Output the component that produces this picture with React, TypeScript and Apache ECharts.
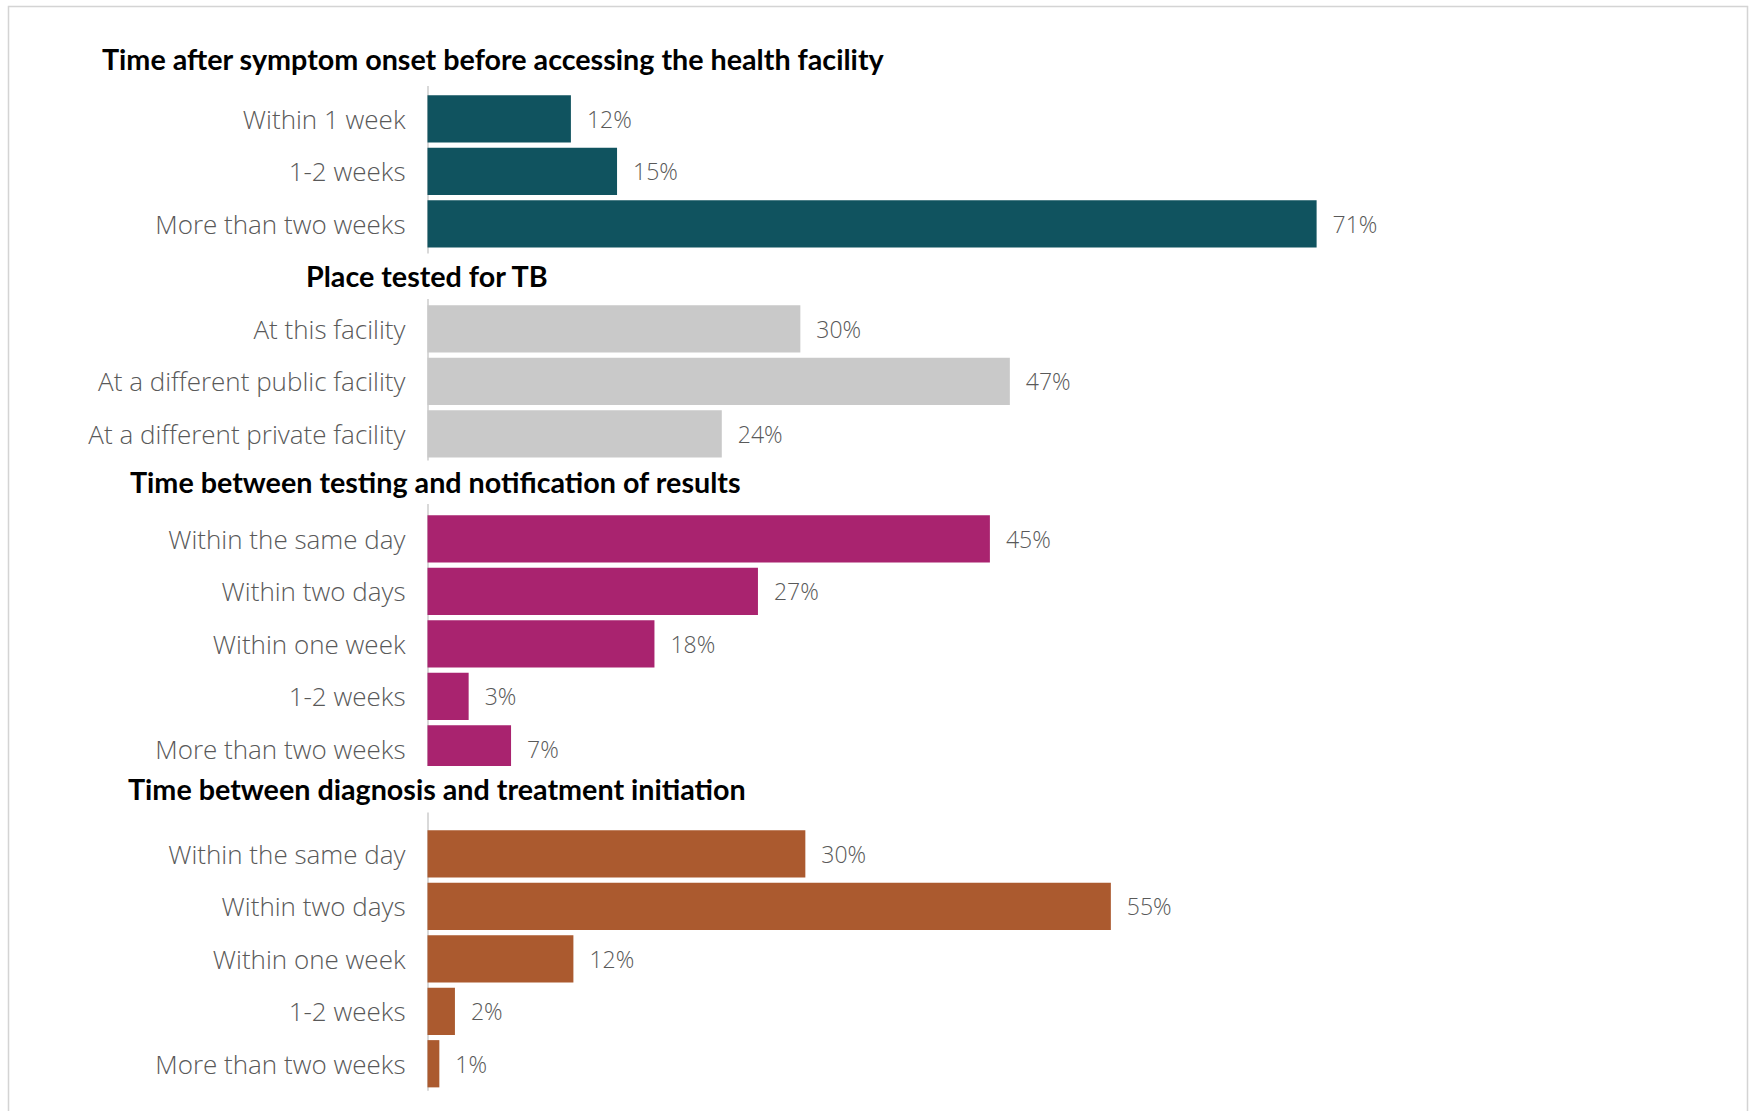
import React, { useEffect, useRef } from 'react';
import * as echarts from 'echarts';

const sectionTitles = [
  'Time after symptom onset before accessing the health facility',
  'Place tested for TB',
  'Time between testing and notification of results',
  'Time between diagnosis and treatment initiation',
];

const sec1Categories = ['Within 1 week', '1-2 weeks', 'More than two weeks'];
const sec1Values = [11.5, 15.2, 71.3];

const sec2Categories = ['At this facility', 'At a different public facility', 'At a different private facility'];
const sec2Values = [29.9, 46.7, 23.6];

const sec3Categories = ['Within the same day', 'Within two days', 'Within one week', '1-2 weeks', 'More than two weeks'];
const sec3Values = [45.1, 26.5, 18.2, 3.3, 6.7];

const sec4Categories = ['Within the same day', 'Within two days', 'Within one week', '1-2 weeks', 'More than two weeks'];
const sec4Values = [30.3, 54.8, 11.7, 2.2, 0.95];

const sectionColors = ['#10535F', '#C9C9C9', '#A9236F', '#AB5A2F'];

// layout of title boxes (pixels relative to the title slot centre)
const titleLayout = [
  { x: 96, dy: -7, padTop: 5, padBottom: 20 },
  { x: 300, dy: 0, padTop: 12, padBottom: 5 },
  { x: 124, dy: -4, padTop: 13, padBottom: 2 },
  { x: 122, dy: -12, padTop: 16, padBottom: 2 },
];

const LABEL_FONT = 'Open Sans';
const TITLE_FONT = 'Lato';
const TITLE_SIZE = 28.7;

export default function App() {
  const ref = useRef<HTMLDivElement>(null);

  useEffect(() => {
    if (!ref.current) return;
    const chart = echarts.init(ref.current, null, { renderer: 'svg' });

    const sections = [
      { cats: sec1Categories, vals: sec1Values },
      { cats: sec2Categories, vals: sec2Values },
      { cats: sec3Categories, vals: sec3Values },
      { cats: sec4Categories, vals: sec4Values },
    ];
    const slotKeys: string[] = [];
    const titleSlots: number[] = [];
    const seriesData: (number | string)[][] = sections.map(() => []);
    sections.forEach((sec, si) => {
      titleSlots.push(slotKeys.length);
      slotKeys.push(`t${si}|`);
      seriesData.forEach((d) => d.push('-'));
      sec.cats.forEach((c, ci) => {
        slotKeys.push(`s${si}c${ci}|${c}`);
        seriesData.forEach((d, di) => d.push(di === si ? sec.vals[ci] : '-'));
      });
    });

    const option: any = {
      animation: false,
      backgroundColor: '#ffffff',
      grid: {
        left: 427.5,
        top: 40,
        width: 1247,
        height: 1050,
        containLabel: false,
        outerBoundsMode: 'none',
      },
      xAxis: {
        type: 'value',
        min: 0,
        max: 100,
        show: false,
      },
      yAxis: {
        type: 'category',
        inverse: true,
        data: slotKeys,
        axisTick: { show: false },
        axisLine: { show: true, lineStyle: { color: '#d9d9d9', width: 2 } },
        axisLabel: {
          margin: 22,
          color: '#595959',
          fontSize: 26,
          fontWeight: 300,
          fontFamily: LABEL_FONT,
          formatter: (v: string) => v.split('|')[1],
        },
      },
      series: sections.map((sec, si) => ({
        type: 'bar',
        stack: 'all',
        barCategoryGap: '10%',
        data: seriesData[si],
        itemStyle: { color: sectionColors[si] },
        label: {
          show: true,
          position: 'right',
          distance: 16,
          color: '#595959',
          fontSize: 23,
          fontWeight: 300,
          fontFamily: LABEL_FONT,
          formatter: (p: any) => `${Math.round(p.value)}%`,
        },
      })),
    };
    chart.setOption(option);

    const elements: any[] = [
      {
        type: 'rect',
        z: 0,
        shape: { x: 8.5, y: 6.5, width: 1739, height: 1130 },
        style: { fill: 'none', stroke: '#d4d4d4', lineWidth: 1.5 },
        silent: true,
      },
    ];
    titleSlots.forEach((slot, ti) => {
      const yc = chart.convertToPixel({ yAxisIndex: 0 }, slot) as number;
      const lay = titleLayout[ti];
      elements.push({
        type: 'text',
        z: 100,
        x: lay.x,
        y: yc + lay.dy,
        style: {
          text: sectionTitles[ti],
          fill: '#000000',
          fontSize: TITLE_SIZE,
          fontWeight: 'bold',
          fontFamily: TITLE_FONT,
          align: 'left',
          verticalAlign: 'middle',
          lineHeight: TITLE_SIZE,
          backgroundColor: '#ffffff',
          padding: [lay.padTop, 6, lay.padBottom, 6],
        },
      });
    });
    chart.setOption({ graphic: elements });

    return () => chart.dispose();
  }, []);

  return (
    <div
      ref={ref}
      style={{ position: 'absolute', left: 0, top: 0, width: 1749, height: 1111 }}
    />
  );
}
